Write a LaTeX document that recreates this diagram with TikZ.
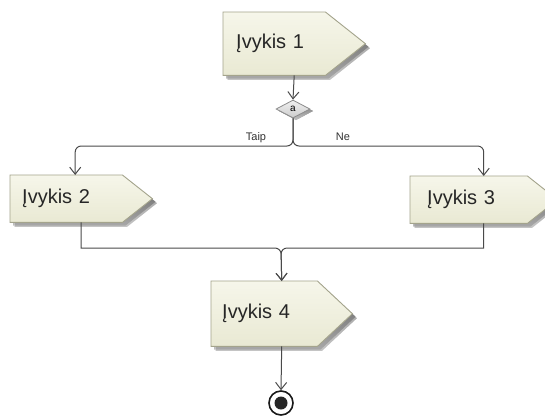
\documentclass[tikz,border=0pt]{standalone}
\usepackage{fontspec}
\setmainfont{Liberation Sans}
\usetikzlibrary{arrows.meta,shapes.geometric,backgrounds}
\definecolor{evfillA}{HTML}{F6F6EA}
\definecolor{evfillB}{HTML}{E9E9D3}
\definecolor{evline}{HTML}{A4A48C}
\definecolor{shade}{HTML}{BDBDB5}
\definecolor{flow}{HTML}{4A4A4A}
% pointed event box drawn behind a named text node
\newcommand\evshape[2]{%
  \fill[shade,opacity=0.55] ([shift={(3,3)}]#1.north west) -- ([shift={(3-#2,3)}]#1.north east)
     -- ([shift={(3,3)}]#1.east) -- ([shift={(3-#2,3)}]#1.south east) -- ([shift={(3,3)}]#1.south west) -- cycle;
  \fill[shade,opacity=0.35] ([shift={(4.5,4.5)}]#1.north west) -- ([shift={(4.5-#2,4.5)}]#1.north east)
     -- ([shift={(4.5,4.5)}]#1.east) -- ([shift={(4.5-#2,4.5)}]#1.south east) -- ([shift={(4.5,4.5)}]#1.south west) -- cycle;
  \draw[evline,line width=0.9pt,top color=evfillA,bottom color=evfillB]
     (#1.north west) -- ([xshift=-#2]#1.north east) -- (#1.east)
     -- ([xshift=-#2]#1.south east) -- (#1.south west) -- cycle;}
\tikzset{
  evt/.style={anchor=north west,inner ysep=0pt,align=left,font=\fontsize{20}{23}\selectfont,text=black!85},
  flowline/.style={draw=flow,line width=1pt},
  flowarrow/.style={flowline,-{Straight Barb[length=7pt,width=11pt]}},
  guard/.style={font=\fontsize{11}{13}\selectfont,text=black!80,inner sep=0pt},
}
\begin{document}
\begin{tikzpicture}[x=1pt,y=-1pt]
\useasboundingbox (0,0) rectangle (545,416);

\node[evt,minimum width=142,minimum height=63,inner xsep=13,text width=116] (e1) at (223,12) {Įvykis 1};
\node[evt,minimum width=142,minimum height=47,inner xsep=12,text width=118] (e2) at (10,175) {Įvykis 2};
\node[evt,minimum width=147,minimum height=47,inner xsep=17,text width=113] (e3) at (410,176) {Įvykis 3};
\node[evt,minimum width=141,minimum height=65,inner xsep=11,text width=119] (e4) at (211,281) {Įvykis 4};

\begin{scope}[on background layer]
  \fill[white] (0,0) rectangle (545,416);
  \evshape{e1}{40}
  \evshape{e2}{30}
  \evshape{e3}{30}
  \evshape{e4}{35}
\end{scope}

% decision
\fill[shade,opacity=0.6] (296,102) -- (313,111) -- (296,120) -- (279,111) -- cycle;
\node[diamond,draw=black!45,line width=0.8pt,top color=black!6,bottom color=black!20,
      minimum width=34,minimum height=18,inner sep=0pt,font=\fontsize{10}{12}\selectfont] (d) at (293,109) {a};

% final node
\node[circle,draw=black!90,line width=1.6pt,fill=white,minimum size=24,inner sep=0pt] (fin) at (281,403) {};
\fill[black!85] (fin.center) circle (6.5);

% flows
\draw[flowarrow] (e1.south) -- (d.north);
\draw[flowarrow,rounded corners=6pt] (d.south) -- (293,146) -| ([xshift=-6]e2.north);
\draw[flowarrow,rounded corners=6pt] (d.south) -- (293,146) -| (e3.north);
\draw[flowarrow] (e2.south) -- (e2.south |- 0,248) [rounded corners=6pt] -- (281,248) -- (e4.north);
\draw[flowarrow] (e3.south) -- (e3.south |- 0,248) [rounded corners=6pt] -- (281,248) -- (e4.north);
\draw[flowarrow] (e4.south) -- (fin.north);

\node[guard,anchor=base] (ty) at (256,140) {Taip};
\node[guard,anchor=base] (tn) at (343,140) {Ne};
\end{tikzpicture}
\end{document}
